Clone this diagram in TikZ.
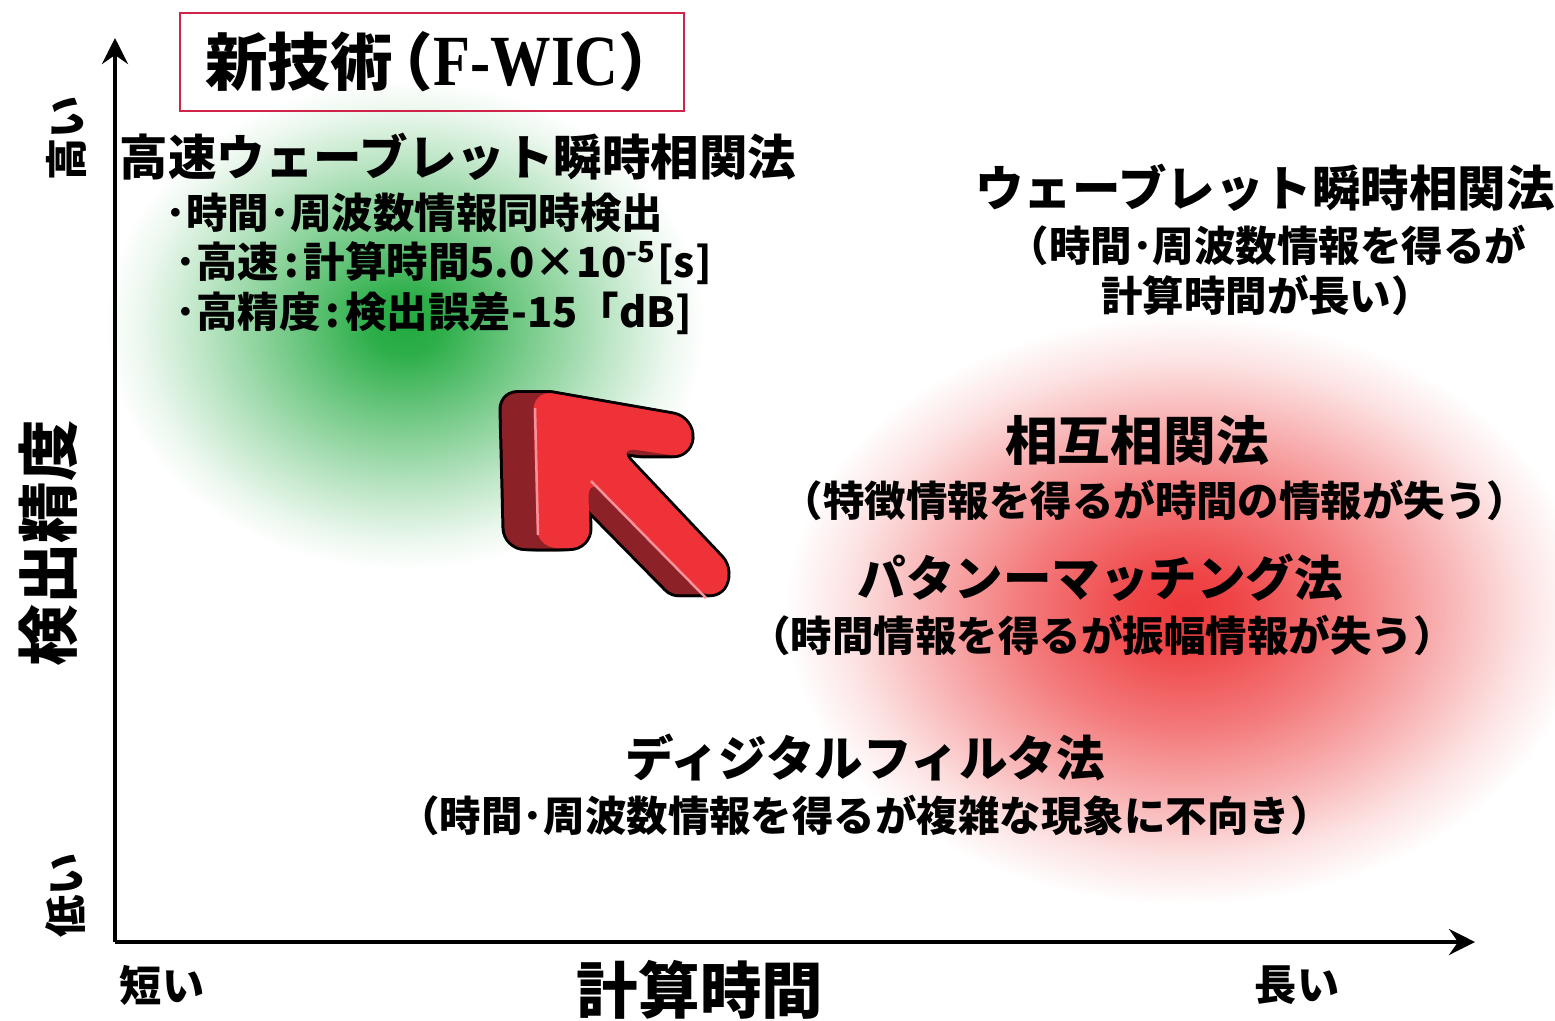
\documentclass[tikz,border=0pt]{standalone}
\usepackage{fontspec}
\setmainfont{Noto Sans CJK JP}
\newfontfamily\titleserif{Liberation Serif}[FakeStretch=0.84]
\usetikzlibrary{arrows.meta}

\definecolor{boxred}{HTML}{D2234A}
\definecolor{glowgreen}{HTML}{22AA40}
\definecolor{glowred}{HTML}{EE3A3C}
\definecolor{arrowface}{HTML}{EE3237}
\definecolor{arrowside}{HTML}{8C2228}
\definecolor{arrowhi}{HTML}{F4919A}

% soft glows behind the groups of methods (path box = inner 25bp radius)
\pgfdeclareradialshading{greenglow}{\pgfpoint{0bp}{0bp}}{%
  color(0bp)=(glowgreen); color(3bp)=(glowgreen!95!white); color(10bp)=(glowgreen!62!white);
  color(17bp)=(glowgreen!30!white); color(22bp)=(glowgreen!9!white); color(25bp)=(white);
  color(50bp)=(white)}
\pgfdeclareradialshading{redglow}{\pgfpoint{0bp}{0bp}}{%
  color(0bp)=(glowred); color(3bp)=(glowred!95!white); color(10bp)=(glowred!68!white);
  color(16bp)=(glowred!40!white); color(21bp)=(glowred!15!white); color(25bp)=(white);
  color(50bp)=(white)}

% outline of the big arrow (front face)
\newcommand\arrowshape{[rounded corners=2mm] (533,390) -- (693,418) -- (690,458)
  -- (617,447) -- (735,572) -- (712,603) -- (588,477) -- (590,548) -- (537,548) -- cycle}
\newcommand\jpcolon{\kern0.12em:\kern0.12em}

\tikzset{
  axis/.style={line width=0.4mm, -{Stealth[length=2.6mm,width=2.6mm,inset=0.9mm]}},
  titlebox/.style={draw=boxred, line width=0.2mm, minimum width=50.4mm, minimum height=9.8mm,
    inner sep=0pt, font=\bfseries\fontsize{17.8pt}{20pt}\selectfont},
  method/.style={inner sep=0pt, font=\bfseries\fontsize{13.8pt}{16pt}\selectfont},
  note/.style={inner sep=0pt, align=center, font=\bfseries\fontsize{11.8pt}{14.2pt}\selectfont},
  axlabel/.style={inner sep=0pt, font=\bfseries\fontsize{12pt}{14pt}\selectfont},
  bigaxlabel/.style={inner sep=0pt, font=\bfseries\fontsize{17.5pt}{20pt}\selectfont},
}

\begin{document}
\begin{tikzpicture}[x=0.1mm, y=-0.1mm]
  \useasboundingbox (0,0) rectangle (1555,1020);
  \clip (0,0) rectangle (1555,1020);

  % glows
  \shade[shading=greenglow] (405,325) ellipse [x radius=30mm, y radius=24.5mm];
  \shade[shading=redglow] (1185,610) ellipse [x radius=40mm, y radius=29.5mm];

  % axes
  \coordinate (o) at (115,942);
  \coordinate (ytip) at (115,38);
  \coordinate (xtip) at (1475,942);
  \draw[axis] (o) -- (ytip);
  \draw[axis] (o) -- (xtip);

  \node[axlabel, rotate=90] (high) at (66,138) {高い};
  \node[axlabel, rotate=90] (low) at (66,895) {低い};
  \node[bigaxlabel, rotate=90] (accuracy) at (48,543) {検出精度};
  \node[axlabel] (short) at (162,985) {短い};
  \node[bigaxlabel] (comptime) at (700,990) {計算時間};
  \node[axlabel] (long) at (1297,985) {長い};

  % new technique
  \node[titlebox] (newtech) at (432,62) {新技術\kern-0.35em（{\titleserif\bfseries\fontsize{20.5pt}{22pt}\selectfont F-WIC}）\kern-0.35em};
  \node[method] (fwic) at (458,157) {高速ウェーブレット瞬時相関法};
  \node[note, anchor=west] (fwic1) at (165,213) {･時間･周波数情報同時検出};
  \node[note, anchor=west] (fwic2) at (175,263) {･高速\jpcolon 計算時間5.0×10\textsuperscript{-5}[s]};
  \node[note, anchor=west] (fwic3) at (175,313) {･高精度\jpcolon 検出誤差-15「dB]};

  % conventional methods
  \node[method] (wavelet) at (1265,188) {ウェーブレット瞬時相関法};
  \node[note] (waveletnote) at (1267,270) {（時間･周波数情報を得るが\\計算時間が長い）};
  \node[method, font=\bfseries\fontsize{15pt}{17pt}\selectfont] (crosscorr) at (1137,440) {相互相関法};
  \node[note] (crosscorrnote) at (1155,500) {（特徴情報を得るが時間の情報が失う）};
  \node[method] (pattern) at (1100,578) {パタンーマッチング法};
  \node[note] (patternnote) at (1102,635) {（時間情報を得るが振幅情報が失う）};
  \node[method] (digital) at (865,757) {ディジタルフィルタ法};
  \node[note] (digitalnote) at (865,815) {（時間･周波数情報を得るが複雑な現象に不向き）};

  % big 3d arrow: outline, side, then front face
  \foreach \s in {0,...,16}
    \draw[black, line width=0.6mm, shift={(-2*\s,0)}] \arrowshape;
  \foreach \s in {0,...,16}
    \fill[arrowside, shift={(-2*\s,0)}] \arrowshape;
  \fill[arrowface] \arrowshape;
  \draw[arrowhi, line width=0.25mm] (535,408) -- (538,535);
  \draw[arrowhi, line width=0.25mm] (591,481) -- (706,598);
\end{tikzpicture}
\end{document}
